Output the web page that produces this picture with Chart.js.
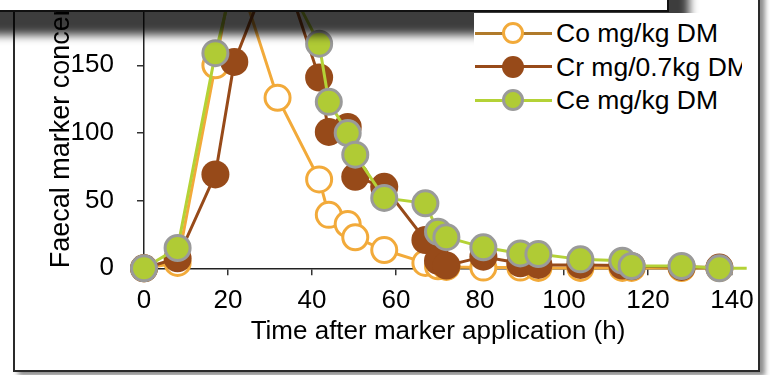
<!DOCTYPE html>
<html>
<head>
<meta charset="utf-8">
<script src="https://cdn.jsdelivr.net/npm/chart.js@4.4.1/dist/chart.umd.min.js"></script>
<style>
  html, body { margin: 0; padding: 0; background: #fff; }
  #wrap { position: relative; width: 770px; height: 375px; overflow: hidden; background: #fff;
          font-family: "Liberation Sans", Arial, sans-serif; }
  #frame { position: absolute; left: 13px; top: -50px; width: 747px; height: 422px; box-sizing: border-box;
           border: 2px solid #2a2a2a; box-shadow: 5px 4px 5px rgba(0,0,0,0.45); z-index: 1; }
  #plot { position: absolute; left: 0; top: -110px; width: 770px; height: 485px; z-index: 2; }
  #shade { position: absolute; left: -60px; top: -60px; width: 749px; height: 95px;
           background: rgba(0,0,0,0.76); filter: blur(5px); z-index: 3; }
  #legend { position: absolute; left: 474px; top: 13px; width: 268px; height: 112px; background: #fff;
            overflow: hidden; z-index: 4; }
  #topbox { position: absolute; left: -60px; top: -60px; width: 729px; height: 72px; box-sizing: border-box;
            background: #fff; border-right: 2px solid #111; border-bottom: 2px solid #111; z-index: 5; }
  .item { position: absolute; left: 0; width: 268px; height: 30px; }
  .item .ln { position: absolute; left: 1px; top: 13.5px; width: 77px; height: 3px; }
  .item .dot { position: absolute; left: 28px; top: 4px; width: 22px; height: 22px; border-radius: 50%; box-sizing: border-box; }
  .item .tx { position: absolute; left: 82px; top: 0; line-height: 30px; font-size: 26.5px; color: #000; white-space: nowrap; }
</style>
</head>
<body>
<div id="wrap">
  <div id="frame"></div>
  <canvas id="plot" width="770" height="485"></canvas>
  <div id="shade"></div>
  <div id="legend"></div>
  <div id="topbox"></div>
</div>
<script>
// sampling times (h after marker application)
const hours = [0, 8, 17, 21.5, 31.8, 41.7, 44, 48.5, 50.3, 57.2, 67, 70, 72, 80.8, 89.6, 93.9, 103.9, 113.9, 116.1, 128, 137];
const ceHours = [0, 8, 17, 21.5, 31.8, 41.7, 44, 48.5, 50.3, 57.2, 67, 70, 72, 80.8, 89.6, 93.9, 103.9, 113.9, 116.1, 128, 137, 143.5];

const coVals = [0, 4, 150, 225, 126, 65.7, 39.5, 32.7, 22.9, 13.5, 4, 1.5, 1, 0.5, 0.5, 0.3, 0.3, 0.3, 0.3, 0.2, 0.2];
const crVals = [0, 7.4, 69.4, 152.5, 234, 141, 100.8, 104.5, 67.6, 60.2, 20.9, 5.5, 2, 8.6, 3.7, 2.5, 2.5, 2, 1.5, 1, 0.5];
const ceVals = [0, 15, 159, 215, 225, 166, 123, 100, 84, 52, 48, 27, 23, 15.5, 11, 10.5, 6.6, 5.6, 1.7, 1.7, 0, 0];

const seriesNames = ['Co mg/kg DM', 'Cr mg/0.7kg DM', 'Ce mg/kg DM'];
const legendLineColors = ['#B07A2A', '#974A19', '#B4D236'];
const xTicks = [0, 20, 40, 60, 80, 100, 120, 140];
const yTicks = [0, 50, 100, 150, 200, 250];

const xTitle = 'Time after marker application (h)';
const yTitle = 'Faecal marker concentration (mg/kg DM)';

const pts = (xs, ys) => xs.map((x, i) => ({x: x, y: ys[i]}));

Chart.defaults.font.family = '"Liberation Sans", Arial, sans-serif';
Chart.defaults.font.size = 26;
Chart.defaults.color = '#000';

const ctx = document.getElementById('plot').getContext('2d');
const chart = new Chart(ctx, {
    type: 'line',
    data: {
        datasets: [{
            label: seriesNames[0],
            data: pts(hours, coVals),
            borderColor: '#F2AA3A',
            borderWidth: 3,
            pointRadius: 12.5,
            pointBorderWidth: 3,
            pointBorderColor: '#F2AA3A',
            pointBackgroundColor: '#ffffff',
            order: 3,
            clip: false
        }, {
            label: seriesNames[1],
            data: pts(hours, crVals),
            borderColor: '#974A19',
            borderWidth: 3,
            pointRadius: 14,
            pointBorderWidth: 0,
            pointBackgroundColor: '#974A19',
            order: 2,
            clip: false
        }, {
            label: seriesNames[2],
            data: pts(ceHours, ceVals),
            borderColor: '#B4D236',
            borderWidth: 3,
            pointRadius: c => (c.raw && c.raw.x > 140) ? 0 : 12.5,
            pointBorderWidth: 3,
            pointBorderColor: '#9A9A9A',
            pointBackgroundColor: '#B0CB35',
            order: 1,
            clip: false
        }]
    },
    options: {
        responsive: false,
        animation: false,
        events: [],
        devicePixelRatio: 1,
        layout: { padding: { top: 40, right: 38, bottom: 0, left: 0 } },
        plugins: { legend: { display: false }, tooltip: { enabled: false } },
        scales: {
            x: {
                type: 'linear',
                min: 0,
                max: 140,
                afterBuildTicks: s => { s.ticks = xTicks.map(v => ({value: v})); },
                afterFit: s => { s.height = 106.7; },
                ticks: { padding: 10, color: '#000' },
                grid: { drawOnChartArea: false, drawTicks: true, tickLength: 7, color: '#333', lineWidth: 1.5 },
                border: { color: '#222', width: 1.5 },
                title: { display: true, text: xTitle, color: '#000', padding: { top: 0, bottom: 28 } }
            },
            y: {
                min: 0,
                max: 250,
                afterBuildTicks: s => { s.ticks = yTicks.map(v => ({value: v})); },
                afterFit: s => { s.width = 144; },
                ticks: { padding: 23, color: '#000' },
                grid: { drawOnChartArea: false, drawTicks: true, tickLength: 7, color: '#333', lineWidth: 1.5 },
                border: { color: '#222', width: 1.5 },
                title: { display: true, text: yTitle, align: 'start', color: '#000', font: { size: 27 },
                         padding: { top: 45, bottom: 0 } }
            }
        }
    }
});

// legend built from the datasets (line + marker + label)
const legend = document.getElementById('legend');
chart.data.datasets.forEach((ds, i) => {
    const row = document.createElement('div');
    row.className = 'item';
    row.style.top = (5.3 + 33.4 * i) + 'px';
    const ln = document.createElement('div');
    ln.className = 'ln';
    ln.style.background = legendLineColors[i];
    const dot = document.createElement('div');
    dot.className = 'dot';
    dot.style.background = ds.pointBackgroundColor;
    if (ds.pointBorderWidth) dot.style.border = ds.pointBorderWidth + 'px solid ' + ds.pointBorderColor;
    const tx = document.createElement('div');
    tx.className = 'tx';
    tx.textContent = ds.label;
    row.appendChild(ln);
    row.appendChild(dot);
    row.appendChild(tx);
    legend.appendChild(row);
});
</script>
</body>
</html>
